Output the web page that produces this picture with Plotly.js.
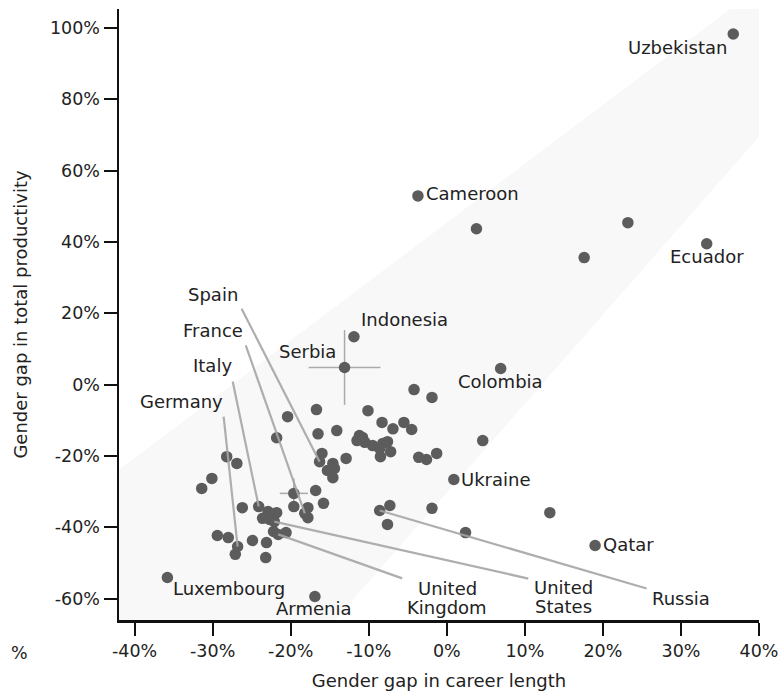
<!DOCTYPE html>
<html><head><meta charset="utf-8">
<script src="https://cdn.plot.ly/plotly-3.0.1.min.js"></script>
<style>body{margin:0;background:#fff}#chart{width:779px;height:693px}</style>
</head><body><div id="chart"></div>
<script>
// ---- data (percent) ----
// labelled countries
const labeledNames = ['Uzbekistan','Cameroon','Ecuador','Indonesia','Serbia','Colombia','Ukraine','Qatar','Russia',
  'United States','United Kingdom','Luxembourg','Armenia','Spain','France','Italy','Germany'];
const labeledCareer = [36.7,-3.7,33.3,-11.9,-13.1,6.9,0.9,19.0,-8.6,-22.1,-21.6,-35.8,-16.9,-16.3,-18.2,-24.1,-26.8];
const labeledProd   = [98.3,52.9,39.5,13.4,4.8,4.5,-26.6,-45.1,-35.3,-38.4,-42.0,-54.1,-59.4,-21.6,-36.1,-34.2,-45.4];
const labeledCareerErr = [0,0,0,0,4.6,0,0,0,0,0,0,0,0,0,0,0,0];
const labeledProdErr   = [0,0,0,0,10.5,0,0,0,0,0,0,0,0,0,0,0,0];
// unlabelled countries
const otherCareer = [3.8,23.2,17.6,-4.2,-1.9,13.2,2.4,-1.9,4.6,-1.3,-2.6,-3.6,-5.5,-4.5,-6.9,-8.3,-7.3,-7.6,
  -10.1,-16.7,-20.4,-16.5,-14.1,-21.8,-11.2,-10.5,-11.5,-10.8,-9.5,-8.6,-8.2,-7.6,-7.2,-8.5,-16.0,
  -14.6,-15.3,-14.4,-14.6,-12.9,-28.2,-26.9,-30.1,-31.4,-19.6,-16.8,-15.8,-19.6,-17.8,-17.8,-26.2,
  -22.9,-21.8,-23.6,-22.7,-22.2,-20.6,-29.4,-28.0,-27.1,-24.9,-23.1,-23.2];
const otherProd = [43.7,45.4,35.6,-1.4,-3.6,-35.9,-41.5,-34.7,-15.7,-19.3,-21.0,-20.4,-10.6,-12.6,-12.4,-10.6,-33.9,-39.2,
  -7.3,-7.0,-9.0,-13.8,-12.9,-14.9,-14.3,-16.2,-15.7,-14.8,-17.1,-17.9,-16.5,-16.0,-18.8,-20.2,-19.3,
  -22.1,-24.1,-23.5,-26.1,-20.7,-20.2,-22.1,-26.3,-29.1,-30.5,-29.7,-33.3,-34.2,-34.5,-37.3,-34.5,
  -35.6,-35.9,-37.5,-37.8,-41.2,-41.5,-42.3,-42.9,-47.6,-43.7,-44.3,-48.5];
const otherCareerErr = [0,0,0,0,0,0,0,0,0,0,0,0,0,0,0,0,0,0,0,0,0,0,0,0,0,0,0,0,0,0,0,0,0,0,0,0,0,0,0,0,0,0,0,0,
  1.8,0,0,0,0,0,0,0,0,0,0,0,0,0,0,0,0,0,0];
const otherProdErr = [0,0,0,0,0,0,0,0,0,0,0,0,0,0,0,0,0,0,0,0,0,0,0,0,0,0,0,0,0,0,0,0,0,0,0,0,0,0,0,0,0,0,0,0,
  4.2,0,0,0,0,0,0,0,0,0,0,0,0,0,0,0,0,0,0];
// shaded band vertices
const bandX = [-42, 36.3, 40, 40, -14.3, -42, -42];
const bandY = [-23.9, 105.3, 105.3, 69.5, -66, -66, -23.9];
// ticks
const xTickVals = [-40,-30,-20,-10,0,10,20,30,40];
const xTickText = ['-40%','-30%','-20%','-10%','0%','10%','20%','30%','40%'];
const yTickVals = [-60,-40,-20,0,20,40,60,80,100];
const yTickText = ['-60%','-40%','-20%','0%','20%','40%','60%','80%','100%'];

// ---- label placement (pixel offsets) ----
const labelCfg = {
  'Uzbekistan': {dx:-56, dy:-14},
  'Cameroon': {dx:6, dy:2, anchor:'left'},
  'Ecuador': {dx:0, dy:-13},
  'Indonesia': {dx:5, dy:17, anchor:'left'},
  'Serbia': {dx:-7, dy:16, anchor:'right'},
  'Colombia': {dx:0, dy:-13},
  'Ukraine': {dx:5, dy:0, anchor:'left'},
  'Qatar': {dx:6, dy:1, anchor:'left'},
  'Russia': {dx:301, dy:-88, leader:[267,-78]},
  'United States': {lines:[['United',289,-66],['States',289,-85]], leader:[254,-57]},
  'United Kingdom': {lines:[['United',169,-54],['Kingdom',169,-73]], leader:[124,-44]},
  'Luxembourg': {dx:62, dy:-11},
  'Armenia': {dx:-1, dy:-12},
  'Spain': {dx:-107, dy:167, leader:[-78,153]},
  'France': {dx:-92, dy:183, leader:[-59,168]},
  'Italy': {dx:-46, dy:141, leader:[-26,125]},
  'Germany': {dx:-56, dy:145, leader:[-14,130]}
};

const FONT = 'DejaVu Sans, Verdana, sans-serif';
const annotations = [];
const shapes = [];
labeledNames.forEach((name,i)=>{
  const c = labelCfg[name]; if(!c) return;
  const x = labeledCareer[i], y = labeledProd[i];
  const items = c.lines ? c.lines : [[name, c.dx, c.dy]];
  items.forEach(([t,dx,dy])=>{
    annotations.push({x:x, y:y, xref:'x', yref:'y', text:t, showarrow:false,
      xanchor:c.anchor||'center', yanchor:'middle', xshift:dx, yshift:dy,
      font:{family:FONT, size:18, color:'#222'}});
  });
  if(c.leader){
    shapes.push({type:'line', xref:'x', yref:'y', xsizemode:'pixel', ysizemode:'pixel',
      xanchor:x, yanchor:y, x0:0, y0:0, x1:c.leader[0], y1:c.leader[1],
      line:{color:'rgba(165,165,165,0.9)', width:2.2}, layer:'above'});
  }
});
annotations.push({xref:'paper', yref:'paper', x:(30-119)/640, y:(620-653)/611, text:'%', showarrow:false,
  xanchor:'right', yanchor:'middle', font:{family:FONT, size:17.5, color:'#222'}});

const markerStyle = {color:'#5c5c5c', size:11.5, line:{width:0}};
const errStyle = {type:'data', visible:true, color:'#aaaaaa', thickness:1.5, width:0};
const traces = [
  {x:bandX, y:bandY, type:'scatter', mode:'lines', fill:'toself', fillcolor:'#f8f8f8',
   line:{width:0, color:'rgba(0,0,0,0)'}, hoverinfo:'skip', showlegend:false},
  {x:otherCareer, y:otherProd, type:'scatter', mode:'markers', marker:markerStyle,
   error_x:Object.assign({array:otherCareerErr}, errStyle),
   error_y:Object.assign({array:otherProdErr}, errStyle), showlegend:false},
  {x:labeledCareer, y:labeledProd, text:labeledNames, type:'scatter', mode:'markers', marker:markerStyle,
   error_x:Object.assign({array:labeledCareerErr}, errStyle),
   error_y:Object.assign({array:labeledProdErr}, errStyle), showlegend:false}
];

const axisCommon = {showgrid:false, zeroline:false, showline:true, linecolor:'#111', linewidth:2.5,
  ticks:'outside', ticklen:13, tickwidth:2, tickcolor:'#111', tickmode:'array',
  tickfont:{family:FONT, size:17.5, color:'#222'}};

const layout = {
  width:779, height:693,
  margin:{l:119, r:20, t:9, b:73},
  paper_bgcolor:'#fff', plot_bgcolor:'#fff',
  xaxis: Object.assign({}, axisCommon, {range:[-42,40], tickvals:xTickVals, ticktext:xTickText,
    title:{text:'Gender gap in career length', font:{family:FONT, size:18, color:'#222'}, standoff:15}}),
  yaxis: Object.assign({}, axisCommon, {range:[-66,105.3], tickvals:yTickVals, ticktext:yTickText,
    title:{text:'Gender gap in total productivity', font:{family:FONT, size:18, color:'#222'}, standoff:18}}),
  annotations: annotations,
  shapes: shapes,
  showlegend:false
};
Plotly.newPlot('chart', traces, layout, {displayModeBar:false, staticPlot:true});
</script></body></html>
